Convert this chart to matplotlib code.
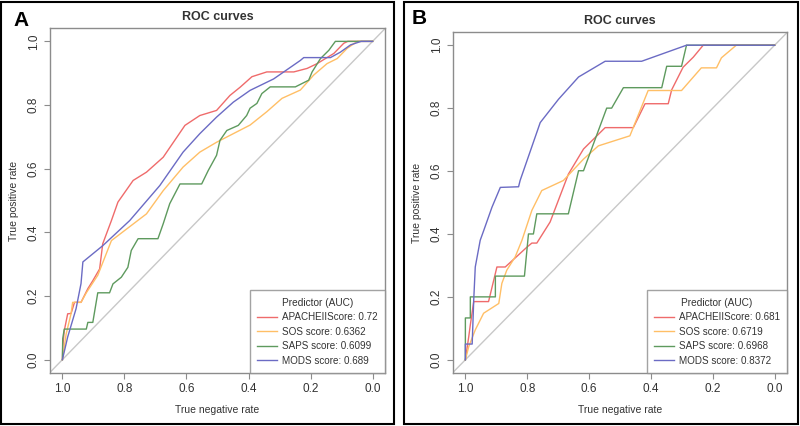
import numpy as np
import matplotlib
matplotlib.use("Agg")
import matplotlib.pyplot as plt
from matplotlib.patches import Rectangle

plt.rcParams['font.family'] = ['Liberation Sans', 'DejaVu Sans']

# ---- panel A data (specificity, sensitivity) ----
a_apache_spec = [1.0, 0.999, 0.994, 0.983, 0.972, 0.961, 0.94, 0.918, 0.902, 0.88, 0.87, 0.842, 0.821,
                 0.772, 0.729, 0.675, 0.605, 0.557, 0.503, 0.46, 0.427, 0.389, 0.341, 0.254, 0.211,
                 0.179, 0.125, 0.093, 0.08, 0.0]
a_apache_sens = [0.0, 0.04, 0.091, 0.144, 0.145, 0.18, 0.18, 0.223, 0.248, 0.285, 0.364, 0.437, 0.495,
                 0.563, 0.589, 0.636, 0.736, 0.767, 0.783, 0.83, 0.856, 0.889, 0.904, 0.904, 0.915,
                 0.93, 0.962, 0.994, 1.0, 1.0]

a_sos_spec = [1.0, 0.994, 0.988, 0.972, 0.967, 0.94, 0.923, 0.886, 0.842, 0.729, 0.675, 0.611, 0.557,
              0.503, 0.449, 0.395, 0.341, 0.292, 0.233, 0.19, 0.147, 0.114, 0.082, 0.049, 0.0]
a_sos_sens = [0.0, 0.04, 0.08, 0.145, 0.18, 0.18, 0.21, 0.265, 0.374, 0.458, 0.531, 0.605, 0.652,
              0.683, 0.71, 0.737, 0.779, 0.821, 0.847, 0.894, 0.93, 0.946, 0.978, 1.0, 1.0]

a_saps_spec = [1.0, 0.999, 0.994, 0.923, 0.918, 0.902, 0.886, 0.848, 0.837, 0.81, 0.789, 0.778, 0.756,
               0.692, 0.675, 0.654, 0.621, 0.551, 0.53, 0.503, 0.492, 0.47, 0.433, 0.406, 0.395,
               0.373, 0.357, 0.33, 0.249, 0.206, 0.195, 0.168, 0.141, 0.12, 0.0]
a_saps_sens = [0.0, 0.066, 0.096, 0.096, 0.117, 0.117, 0.21, 0.21, 0.238, 0.259, 0.29, 0.343, 0.38,
               0.38, 0.427, 0.49, 0.552, 0.552, 0.594, 0.642, 0.689, 0.72, 0.736, 0.767, 0.79,
               0.805, 0.836, 0.857, 0.857, 0.878, 0.904, 0.946, 0.972, 1.0, 1.0]

a_mods_spec = [1.0, 0.983, 0.956, 0.94, 0.934, 0.87, 0.783, 0.686, 0.611, 0.557, 0.503, 0.449, 0.395,
               0.319, 0.233, 0.222, 0.136, 0.104, 0.071, 0.037, 0.0]
a_mods_sens = [0.0, 0.071, 0.16, 0.239, 0.307, 0.358, 0.437, 0.547, 0.652, 0.71, 0.762, 0.809, 0.846,
               0.882, 0.94, 0.949, 0.949, 0.966, 0.989, 1.0, 1.0]

# ---- panel B data ----
b_apache_spec = [1.0, 0.989, 0.984, 0.973, 0.925, 0.898, 0.871, 0.801, 0.785, 0.769, 0.726, 0.667,
                 0.618, 0.548, 0.457, 0.419, 0.344, 0.333, 0.296, 0.263, 0.231, 0.0]
b_apache_sens = [0.0, 0.074, 0.111, 0.185, 0.185, 0.295, 0.295, 0.358, 0.371, 0.371, 0.438, 0.59,
                 0.67, 0.738, 0.738, 0.814, 0.814, 0.858, 0.93, 0.962, 1.0, 1.0]

b_sos_spec = [1.0, 0.989, 0.968, 0.941, 0.892, 0.882, 0.866, 0.839, 0.817, 0.785, 0.753, 0.683, 0.618,
              0.57, 0.468, 0.409, 0.301, 0.237, 0.188, 0.172, 0.124, 0.0]
b_sos_sens = [0.0, 0.042, 0.095, 0.148, 0.179, 0.243, 0.285, 0.327, 0.38, 0.475, 0.538, 0.57, 0.638,
              0.68, 0.712, 0.856, 0.856, 0.928, 0.928, 0.96, 1.0, 1.0]

b_saps_spec = [1.0, 1.0, 0.984, 0.984, 0.903, 0.903, 0.809, 0.796, 0.78, 0.769, 0.667, 0.634, 0.618,
               0.543, 0.527, 0.489, 0.365, 0.349, 0.301, 0.285, 0.0]
b_saps_sens = [0.0, 0.133, 0.133, 0.2, 0.2, 0.266, 0.266, 0.4, 0.4, 0.464, 0.464, 0.601, 0.601,
               0.8, 0.8, 0.865, 0.865, 0.933, 0.933, 1.0, 1.0]

b_mods_spec = [1.0, 1.0, 0.978, 0.973, 0.968, 0.952, 0.941, 0.914, 0.887, 0.828, 0.823, 0.758, 0.699,
               0.634, 0.548, 0.43, 0.285, 0.0]
b_mods_sens = [0.0, 0.05, 0.05, 0.19, 0.295, 0.38, 0.41, 0.485, 0.548, 0.55, 0.57, 0.754, 0.828,
               0.899, 0.949, 0.949, 1.0, 1.0]

labels_a = ['APACHEIIScore: 0.72', 'SOS score: 0.6362', 'SAPS score: 0.6099', 'MODS score: 0.689']
labels_b = ['APACHEIIScore: 0.681', 'SOS score: 0.6719', 'SAPS score: 0.6968', 'MODS score: 0.8372']
colors = ['#ef6b6b', '#ffbf66', '#5e9a5e', '#6b6bc4']

fig = plt.figure(figsize=(8, 4.26), dpi=100)
W, H = 800, 426


def px_axes(l, t, r, b):
    return fig.add_axes([l / W, 1 - b / H, (r - l) / W, (b - t) / H])


def draw_panel(ax, curves, labels):
    ax.axline((1, 0), (0, 1), color='#c8c8c8', lw=1.0, zorder=1)
    for (sx, sy), c, lab in zip(curves, colors, labels):
        ax.plot(sx, sy, color=c, lw=1.0, label=lab, zorder=2)
    ax.set_xlim(1.04, -0.04)
    ax.set_ylim(-0.042, 1.042)
    ticks = [0.0, 0.2, 0.4, 0.6, 0.8, 1.0]
    ax.set_xticks(ticks)
    ax.set_yticks(ticks)
    ax.set_xticklabels(['%.1f' % t for t in ticks])
    ax.set_yticklabels(['%.1f' % t for t in ticks], rotation=90, va='center')
    for s in ax.spines.values():
        s.set_color('#8c8c8c')
        s.set_linewidth(1.0)
    ax.tick_params(colors='#8c8c8c', labelcolor='#333333', labelsize=8.5, length=4, width=0.8)
    ax.set_xlabel('True negative rate', fontsize=7.5, color='#333333', labelpad=7)
    ax.set_ylabel('True positive rate', fontsize=7.5, color='#333333', labelpad=6)
    ax.set_title('ROC curves', fontsize=9, fontweight='bold', color='#333333', pad=6)
    leg = ax.legend(loc='lower right', title='Predictor (AUC)', fontsize=7.1, title_fontsize=7.3,
                    frameon=True, fancybox=False, borderaxespad=0, handlelength=2.0,
                    handletextpad=0.5, labelspacing=0.45, borderpad=0.75, labelcolor='#333333')
    leg.get_frame().set_edgecolor('#8c8c8c')
    leg.get_frame().set_linewidth(1.0)
    leg.get_title().set_color('#333333')


axA = px_axes(50, 28, 385, 373)
draw_panel(axA, [(a_apache_spec, a_apache_sens), (a_sos_spec, a_sos_sens),
                 (a_saps_spec, a_saps_sens), (a_mods_spec, a_mods_sens)], labels_a)

axB = px_axes(453, 32, 787, 373)
draw_panel(axB, [(b_apache_spec, b_apache_sens), (b_sos_spec, b_sos_sens),
                 (b_saps_spec, b_saps_sens), (b_mods_spec, b_mods_sens)], labels_b)

# outer frames and panel letters
for l, r in [(1, 394), (404, 798)]:
    fig.patches.append(Rectangle((l / W, 1 - 424 / H), (r - l) / W, 422 / H,
                                 transform=fig.transFigure, fill=False,
                                 edgecolor='black', lw=1.5))
fig.text(13 / W, 1 - 21 / H, 'A', fontsize=15, fontweight='bold', va='center', ha='left')
fig.text(412 / W, 1 - 18 / H, 'B', fontsize=15, fontweight='bold', va='center', ha='left')

fig.savefig('out.png', dpi=100)
